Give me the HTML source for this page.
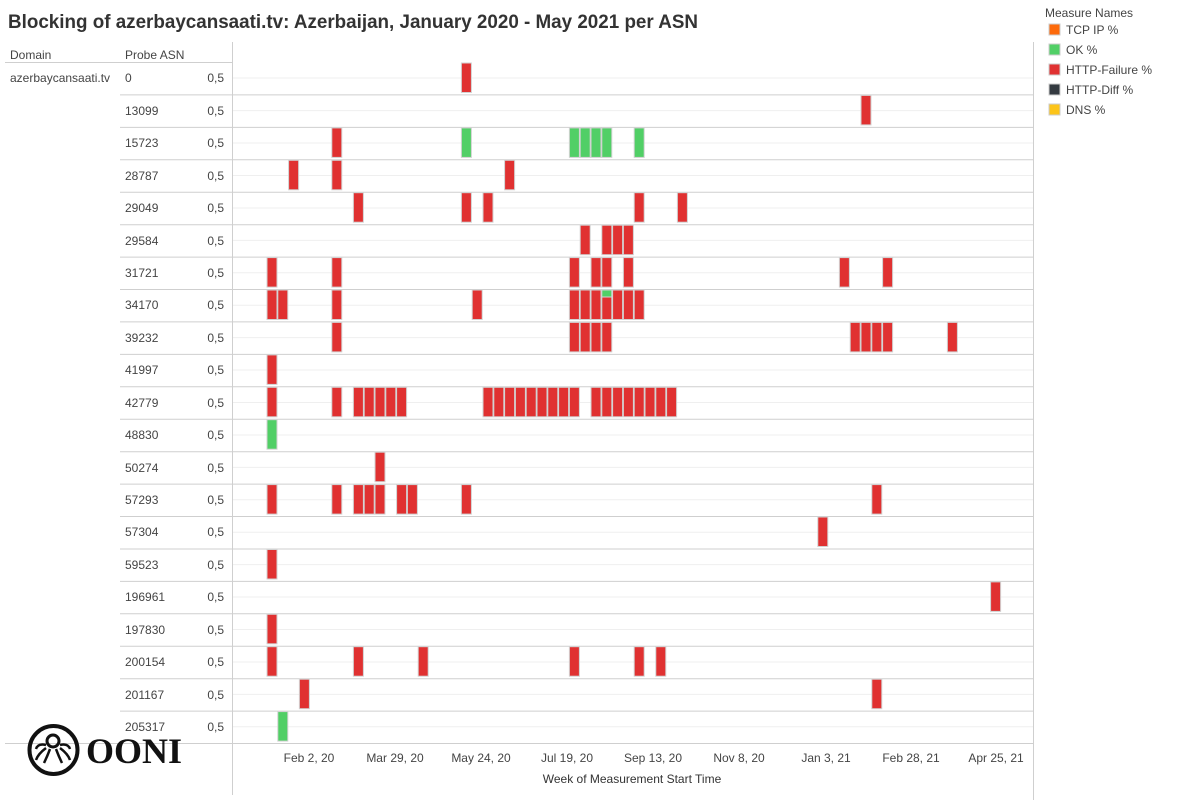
<!DOCTYPE html>
<html><head><meta charset="utf-8"><style>
body{margin:0;background:#fff;width:1200px;height:800px;overflow:hidden;font-family:"Liberation Sans",sans-serif}
svg text{font-family:"Liberation Sans",sans-serif}
svg text.serif{font-family:"Liberation Serif",serif}
.r{width:10px;height:29.5px;fill:#e03131;stroke:#d2d2d2;stroke-width:1}
.g{width:10px;height:29.5px;fill:#51cf66;stroke:#d2d2d2;stroke-width:1}
.lab{font-size:12px;fill:#444}
.sep{stroke:#cfcfcf;stroke-width:1}
.mid{stroke:#efefef;stroke-width:1}
</style></head><body>
<svg width="1200" height="800" xmlns="http://www.w3.org/2000/svg">
<text x="8" y="28" font-size="19" font-weight="bold" fill="#333" textLength="690" lengthAdjust="spacingAndGlyphs">Blocking of azerbaycansaati.tv: Azerbaijan, January 2020 - May 2021 per ASN</text>
<text x="10" y="59" class="lab" fill="#333">Domain</text>
<text x="125" y="59" class="lab" fill="#333">Probe ASN</text>
<line x1="5" y1="62.5" x2="232" y2="62.5" class="sep"/>
<text x="10" y="82" class="lab">azerbaycansaati.tv</text>
<g>
<line x1="232" y1="78" x2="1033" y2="78" class="mid"/><line x1="232" y1="110.6" x2="1033" y2="110.6" class="mid"/><line x1="232" y1="143" x2="1033" y2="143" class="mid"/><line x1="232" y1="175.5" x2="1033" y2="175.5" class="mid"/><line x1="232" y1="208" x2="1033" y2="208" class="mid"/><line x1="232" y1="240.4" x2="1033" y2="240.4" class="mid"/><line x1="232" y1="272.8" x2="1033" y2="272.8" class="mid"/><line x1="232" y1="305.2" x2="1033" y2="305.2" class="mid"/><line x1="232" y1="337.6" x2="1033" y2="337.6" class="mid"/><line x1="232" y1="370" x2="1033" y2="370" class="mid"/><line x1="232" y1="402.5" x2="1033" y2="402.5" class="mid"/><line x1="232" y1="435" x2="1033" y2="435" class="mid"/><line x1="232" y1="467.4" x2="1033" y2="467.4" class="mid"/><line x1="232" y1="499.8" x2="1033" y2="499.8" class="mid"/><line x1="232" y1="532.2" x2="1033" y2="532.2" class="mid"/><line x1="232" y1="564.6" x2="1033" y2="564.6" class="mid"/><line x1="232" y1="597" x2="1033" y2="597" class="mid"/><line x1="232" y1="629.5" x2="1033" y2="629.5" class="mid"/><line x1="232" y1="662" x2="1033" y2="662" class="mid"/><line x1="232" y1="694.4" x2="1033" y2="694.4" class="mid"/><line x1="232" y1="726.8" x2="1033" y2="726.8" class="mid"/>
<line x1="120" y1="94.9" x2="1033" y2="94.9" class="sep"/><line x1="120" y1="127.4" x2="1033" y2="127.4" class="sep"/><line x1="120" y1="159.8" x2="1033" y2="159.8" class="sep"/><line x1="120" y1="192.2" x2="1033" y2="192.2" class="sep"/><line x1="120" y1="224.7" x2="1033" y2="224.7" class="sep"/><line x1="120" y1="257.1" x2="1033" y2="257.1" class="sep"/><line x1="120" y1="289.5" x2="1033" y2="289.5" class="sep"/><line x1="120" y1="321.9" x2="1033" y2="321.9" class="sep"/><line x1="120" y1="354.4" x2="1033" y2="354.4" class="sep"/><line x1="120" y1="386.8" x2="1033" y2="386.8" class="sep"/><line x1="120" y1="419.2" x2="1033" y2="419.2" class="sep"/><line x1="120" y1="451.7" x2="1033" y2="451.7" class="sep"/><line x1="120" y1="484.1" x2="1033" y2="484.1" class="sep"/><line x1="120" y1="516.5" x2="1033" y2="516.5" class="sep"/><line x1="120" y1="549" x2="1033" y2="549" class="sep"/><line x1="120" y1="581.4" x2="1033" y2="581.4" class="sep"/><line x1="120" y1="613.8" x2="1033" y2="613.8" class="sep"/><line x1="120" y1="646.2" x2="1033" y2="646.2" class="sep"/><line x1="120" y1="678.7" x2="1033" y2="678.7" class="sep"/><line x1="120" y1="711.1" x2="1033" y2="711.1" class="sep"/>
<line x1="5" y1="743.5" x2="1033" y2="743.5" class="sep"/>
<line x1="232.5" y1="42" x2="232.5" y2="795" class="sep"/>
<line x1="1033.5" y1="42" x2="1033.5" y2="800" class="sep"/>
</g>
<g class="lab">
<text x="125" y="82">0</text><text x="125" y="115">13099</text><text x="125" y="147">15723</text><text x="125" y="180">28787</text><text x="125" y="212">29049</text><text x="125" y="245">29584</text><text x="125" y="277">31721</text><text x="125" y="309">34170</text><text x="125" y="342">39232</text><text x="125" y="374">41997</text><text x="125" y="407">42779</text><text x="125" y="439">48830</text><text x="125" y="472">50274</text><text x="125" y="504">57293</text><text x="125" y="536">57304</text><text x="125" y="569">59523</text><text x="125" y="601">196961</text><text x="125" y="634">197830</text><text x="125" y="666">200154</text><text x="125" y="699">201167</text><text x="125" y="731">205317</text>
</g>
<g class="lab" text-anchor="end">
<text x="224" y="82">0,5</text><text x="224" y="115">0,5</text><text x="224" y="147">0,5</text><text x="224" y="180">0,5</text><text x="224" y="212">0,5</text><text x="224" y="245">0,5</text><text x="224" y="277">0,5</text><text x="224" y="309">0,5</text><text x="224" y="342">0,5</text><text x="224" y="374">0,5</text><text x="224" y="407">0,5</text><text x="224" y="439">0,5</text><text x="224" y="472">0,5</text><text x="224" y="504">0,5</text><text x="224" y="536">0,5</text><text x="224" y="569">0,5</text><text x="224" y="601">0,5</text><text x="224" y="634">0,5</text><text x="224" y="666">0,5</text><text x="224" y="699">0,5</text><text x="224" y="731">0,5</text>
</g>
<g transform="translate(0,63)"><rect class="r" x="461.4" y="0"/></g>
<g transform="translate(0,95.4)"><rect class="r" x="861" y="0"/></g>
<g transform="translate(0,127.9)"><rect class="r" x="331.8" y="0"/><rect class="g" x="461.4" y="0"/><rect class="g" x="569.4" y="0"/><rect class="g" x="580.2" y="0"/><rect class="g" x="591" y="0"/><rect class="g" x="601.8" y="0"/><rect class="g" x="634.2" y="0"/></g>
<g transform="translate(0,160.3)"><rect class="r" x="288.6" y="0"/><rect class="r" x="331.8" y="0"/><rect class="r" x="504.6" y="0"/></g>
<g transform="translate(0,192.7)"><rect class="r" x="353.4" y="0"/><rect class="r" x="461.4" y="0"/><rect class="r" x="483" y="0"/><rect class="r" x="634.2" y="0"/><rect class="r" x="677.4" y="0"/></g>
<g transform="translate(0,225.2)"><rect class="r" x="580.2" y="0"/><rect class="r" x="601.8" y="0"/><rect class="r" x="612.6" y="0"/><rect class="r" x="623.4" y="0"/></g>
<g transform="translate(0,257.6)"><rect class="r" x="267" y="0"/><rect class="r" x="331.8" y="0"/><rect class="r" x="569.4" y="0"/><rect class="r" x="591" y="0"/><rect class="r" x="601.8" y="0"/><rect class="r" x="623.4" y="0"/><rect class="r" x="839.4" y="0"/><rect class="r" x="882.6" y="0"/></g>
<g transform="translate(0,290)"><rect class="r" x="267" y="0"/><rect class="r" x="277.8" y="0"/><rect class="r" x="331.8" y="0"/><rect class="r" x="472.2" y="0"/><rect class="r" x="569.4" y="0"/><rect class="r" x="580.2" y="0"/><rect class="r" x="591" y="0"/><rect class="r" x="601.8" y="0"/><rect x="601.8" y="0" width="10" height="7" fill="#51cf66" stroke="#d2d2d2"/><rect class="r" x="612.6" y="0"/><rect class="r" x="623.4" y="0"/><rect class="r" x="634.2" y="0"/></g>
<g transform="translate(0,322.4)"><rect class="r" x="331.8" y="0"/><rect class="r" x="569.4" y="0"/><rect class="r" x="580.2" y="0"/><rect class="r" x="591" y="0"/><rect class="r" x="601.8" y="0"/><rect class="r" x="850.2" y="0"/><rect class="r" x="861" y="0"/><rect class="r" x="871.8" y="0"/><rect class="r" x="882.6" y="0"/><rect class="r" x="947.4" y="0"/></g>
<g transform="translate(0,354.9)"><rect class="r" x="267" y="0"/></g>
<g transform="translate(0,387.3)"><rect class="r" x="267" y="0"/><rect class="r" x="331.8" y="0"/><rect class="r" x="353.4" y="0"/><rect class="r" x="364.2" y="0"/><rect class="r" x="375" y="0"/><rect class="r" x="385.8" y="0"/><rect class="r" x="396.6" y="0"/><rect class="r" x="483" y="0"/><rect class="r" x="493.8" y="0"/><rect class="r" x="504.6" y="0"/><rect class="r" x="515.4" y="0"/><rect class="r" x="526.2" y="0"/><rect class="r" x="537" y="0"/><rect class="r" x="547.8" y="0"/><rect class="r" x="558.6" y="0"/><rect class="r" x="569.4" y="0"/><rect class="r" x="591" y="0"/><rect class="r" x="601.8" y="0"/><rect class="r" x="612.6" y="0"/><rect class="r" x="623.4" y="0"/><rect class="r" x="634.2" y="0"/><rect class="r" x="645" y="0"/><rect class="r" x="655.8" y="0"/><rect class="r" x="666.6" y="0"/></g>
<g transform="translate(0,419.7)"><rect class="g" x="267" y="0"/></g>
<g transform="translate(0,452.2)"><rect class="r" x="375" y="0"/></g>
<g transform="translate(0,484.6)"><rect class="r" x="267" y="0"/><rect class="r" x="331.8" y="0"/><rect class="r" x="353.4" y="0"/><rect class="r" x="364.2" y="0"/><rect class="r" x="375" y="0"/><rect class="r" x="396.6" y="0"/><rect class="r" x="407.4" y="0"/><rect class="r" x="461.4" y="0"/><rect class="r" x="871.8" y="0"/></g>
<g transform="translate(0,517)"><rect class="r" x="817.8" y="0"/></g>
<g transform="translate(0,549.5)"><rect class="r" x="267" y="0"/></g>
<g transform="translate(0,581.9)"><rect class="r" x="990.6" y="0"/></g>
<g transform="translate(0,614.3)"><rect class="r" x="267" y="0"/></g>
<g transform="translate(0,646.7)"><rect class="r" x="267" y="0"/><rect class="r" x="353.4" y="0"/><rect class="r" x="418.2" y="0"/><rect class="r" x="569.4" y="0"/><rect class="r" x="634.2" y="0"/><rect class="r" x="655.8" y="0"/></g>
<g transform="translate(0,679.2)"><rect class="r" x="299.4" y="0"/><rect class="r" x="871.8" y="0"/></g>
<g transform="translate(0,711.6)"><rect class="g" x="277.8" y="0"/></g>
<g class="lab" text-anchor="middle">
<text x="309" y="762">Feb 2, 20</text><text x="395" y="762">Mar 29, 20</text><text x="481" y="762">May 24, 20</text><text x="567" y="762">Jul 19, 20</text><text x="653" y="762">Sep 13, 20</text><text x="739" y="762">Nov 8, 20</text><text x="826" y="762">Jan 3, 21</text><text x="911" y="762">Feb 28, 21</text><text x="996" y="762">Apr 25, 21</text>
<text x="632" y="783" fill="#333">Week of Measurement Start Time</text>
</g>
<text x="1045" y="17" class="lab" fill="#333">Measure Names</text>
<rect x="1049" y="24" width="11" height="11" fill="#fd6a0b" stroke="#ccc"/><text x="1066" y="34" class="lab" fill="#333">TCP IP %</text>
<rect x="1049" y="44" width="11" height="11" fill="#51cf66" stroke="#ccc"/><text x="1066" y="54" class="lab" fill="#333">OK %</text>
<rect x="1049" y="64" width="11" height="11" fill="#e03131" stroke="#ccc"/><text x="1066" y="74" class="lab" fill="#333">HTTP-Failure %</text>
<rect x="1049" y="84" width="11" height="11" fill="#343a40" stroke="#ccc"/><text x="1066" y="94" class="lab" fill="#333">HTTP-Diff %</text>
<rect x="1049" y="104" width="11" height="11" fill="#fcc419" stroke="#ccc"/><text x="1066" y="114" class="lab" fill="#333">DNS %</text>
<g fill="none" stroke="#111">
<circle cx="53.5" cy="750" r="24" stroke-width="4"/>
<circle cx="53" cy="741" r="6" stroke-width="3"/>
<path d="M46 748 q-8 6 -10 12 M50 749 q-3 8 -6 14 M56 749 q3 8 6 14 M60 748 q8 6 10 12 M46 745 q-8 -2 -10 4 M60 745 q8 -2 10 4" stroke-width="2.5"/>
</g>
<text x="86" y="763" class="serif" style="font-family:'Liberation Serif',serif" font-size="36" font-weight="bold" fill="#111">OONI</text>
</svg>
</body></html>
